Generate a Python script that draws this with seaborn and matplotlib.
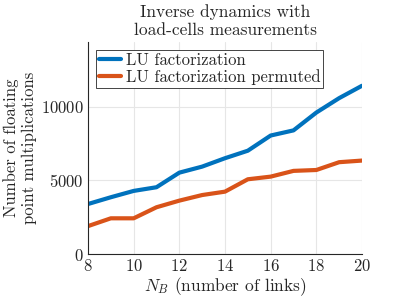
import numpy as np
import pandas as pd
import matplotlib
matplotlib.use("Agg")
import matplotlib.pyplot as plt
import seaborn as sns

# data
n_links = [8, 9, 10, 11, 12, 13, 14, 15, 16, 17, 18, 19, 20]
lu = [3400, 3860, 4290, 4540, 5530, 5940, 6510, 7020, 8050, 8400, 9610, 10590, 11430]
lu_perm = [1900, 2430, 2430, 3180, 3630, 4010, 4240, 5080, 5260, 5650, 5710, 6240, 6350]
labels = ["LU factorization", "LU factorization permuted"]

df = pd.DataFrame({
    "N": n_links * 2,
    "mults": lu + lu_perm,
    "method": [labels[0]] * len(n_links) + [labels[1]] * len(n_links),
})

sns.set_style("whitegrid")
plt.rcParams["font.family"] = "serif"
plt.rcParams["font.serif"] = ["cmr10"]
plt.rcParams["mathtext.fontset"] = "cm"
plt.rcParams["axes.formatter.use_mathtext"] = True

fig = plt.figure(figsize=(4, 3), dpi=100)
ax = fig.add_axes([0.22, 0.153, 0.685, 0.707])

sns.lineplot(data=df, x="N", y="mults", hue="method",
             palette=["#0072BD", "#D95319"], linewidth=3, ax=ax)

ax.set_xlim(8, 20)
ax.set_ylim(0, 14400)
ax.set_xticks([8, 10, 12, 14, 16, 18, 20])
ax.set_yticks([0, 5000, 10000])
ax.grid(True, color="#e6e6e6", linewidth=0.8)
for s in ["top", "right"]:
    ax.spines[s].set_visible(False)
for s in ["left", "bottom"]:
    ax.spines[s].set_color("#262626")
    ax.spines[s].set_linewidth(0.8)
ax.tick_params(direction="in", length=3, labelsize=12, colors="#262626", pad=3)

ax.set_xlabel("$N_B$ (number of links)", fontsize=12.5, color="#262626", labelpad=1)
ax.set_ylabel("Number of floating\npoint multiplications", fontsize=12,
              color="#262626", labelpad=3)
ax.set_title("Inverse dynamics with\nload-cells measurements", fontsize=12.5,
             color="#262626", pad=5)

leg = ax.legend(loc="upper left", fontsize=12, frameon=True, fancybox=False,
                edgecolor="#262626", framealpha=1, handlelength=1.3,
                borderpad=0.2, labelspacing=0.05, handletextpad=0.3,
                borderaxespad=0.45)
leg.get_frame().set_linewidth(0.6)
leg.set_title(None)

fig.savefig("out.png", dpi=100)
